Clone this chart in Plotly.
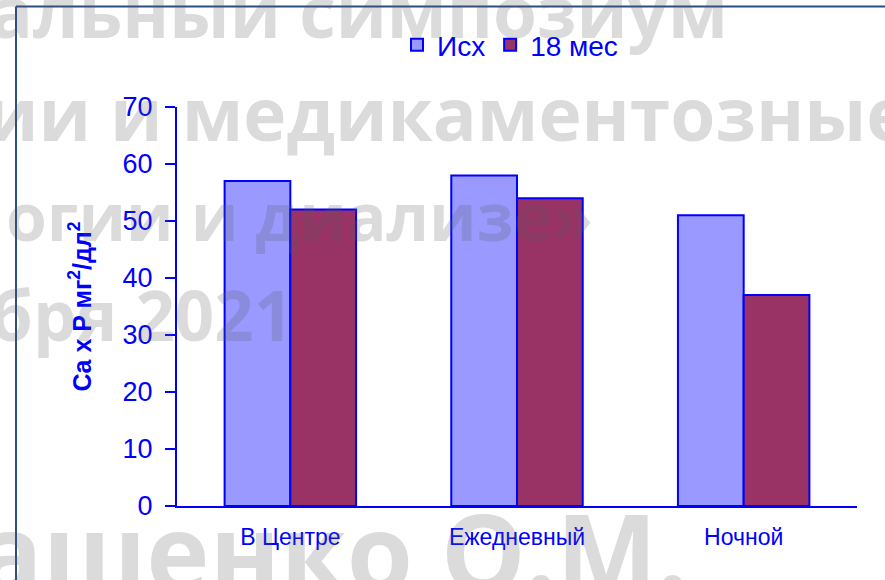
import plotly.graph_objects as go

# Categories and series values (Ca x P, mg^2/dl^2)
categories = ["В Центре", "Ежедневный", "Ночной"]
baseline_vals = [57, 58, 51]
month18_vals = [52, 54, 37]
series_names = ["Исх", "18 мес"]
y_ticks = [0, 10, 20, 30, 40, 50, 60, 70]

# Background slide text lines (partially visible)
bg_lines = ["альный симпозиум", "ии и медикаментозные", "огии и диализе»",
            "бря 2021", "ашенко О.М."]

W, H = 885, 580
L, R, T, B = 177, 28, 107, 74
PW, PH = W - L - R, H - T - B


def px_x(x):
    return (x - L) / PW


def px_y(y):
    return (H - B - y) / PH


BLUE = "#0000FF"
FONT = "Liberation Sans, Arial, sans-serif"

fig = go.Figure()
fig.add_trace(go.Bar(
    x=categories, y=baseline_vals, name=series_names[0],
    marker=dict(color="#9999FF", line=dict(color=BLUE, width=2)),
))
fig.add_trace(go.Bar(
    x=categories, y=month18_vals, name=series_names[1],
    marker=dict(color="#993366", line=dict(color=BLUE, width=2)),
))

# Outer frame (top and left edges)
frame = "#2B4F80"
fig.add_shape(type="line", xref="paper", yref="paper",
              x0=px_x(16), x1=px_x(900), y0=px_y(6.5), y1=px_y(6.5),
              line=dict(color=frame, width=2))
fig.add_shape(type="line", xref="paper", yref="paper",
              x0=px_x(16), x1=px_x(16), y0=px_y(6.5), y1=px_y(600),
              line=dict(color=frame, width=2))

# Semi-transparent slide text over the chart: (left x, centre y, size)
bg_pos = [(-12, 10, 71), (-16, 112, 73), (4, 215, 66), (-12, 314, 69), (-24, 550, 107)]
for txt, (lx, cy, sz) in zip(bg_lines, bg_pos):
    fig.add_annotation(text=txt, xref="paper", yref="paper",
                       x=px_x(lx), y=px_y(cy), xanchor="left", yanchor="middle",
                       showarrow=False,
                       font=dict(family="Open Sans, sans-serif", size=sz,
                                 color="rgba(90,90,90,0.22)", weight="bold"))

fig.update_layout(
    width=W, height=H,
    margin=dict(l=L, r=R, t=T, b=B, pad=0),
    paper_bgcolor="white", plot_bgcolor="white",
    barmode="group", bargap=0.42, bargroupgap=0,
    font=dict(family=FONT, color=BLUE),
    legend=dict(orientation="h", x=px_x(510), y=px_y(45), xanchor="center",
                yanchor="middle", font=dict(size=28, color=BLUE, family=FONT),
                itemwidth=30, tracegroupgap=0, bgcolor="rgba(0,0,0,0)"),
    showlegend=True,
)
fig.update_xaxes(
    type="category", showline=True, linecolor=BLUE, linewidth=2,
    ticks="", showgrid=False, tickfont=dict(size=23, color=BLUE),
    ticklabelstandoff=9, zeroline=False,
)
fig.update_yaxes(
    range=[0, 70], tickvals=y_ticks, showline=True, linecolor=BLUE, linewidth=2,
    ticks="outside", ticklen=10, tickwidth=2, tickcolor=BLUE,
    showgrid=False, zeroline=False, tickfont=dict(size=27, color=BLUE),
    ticklabelstandoff=7,
    title=dict(text="Ca x P мг<sup>2</sup>/дл<sup>2</sup>",
               font=dict(size=25, color=BLUE, family=FONT, weight="bold"),
               standoff=24),
)

fig.write_html("out.html")
